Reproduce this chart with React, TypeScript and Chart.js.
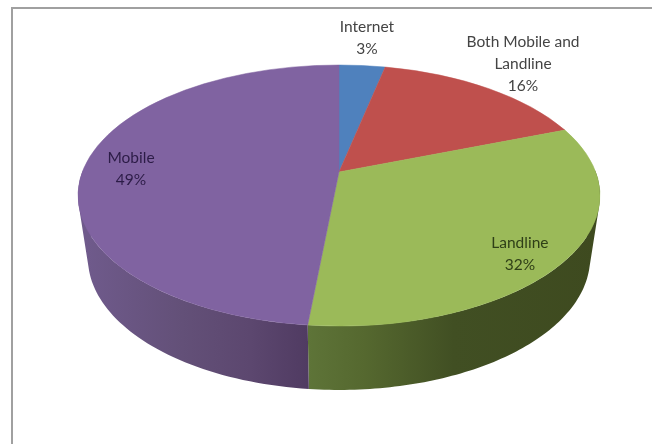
import React, { useEffect, useRef } from "react";
import { Chart, registerables } from "chart.js";

Chart.register(...registerables);

const categories = ["Internet", "Both Mobile and Landline", "Landline", "Mobile"];
const shares = [3.4, 15.9, 32.4, 48.5];
const topColors = ["#4f81bd", "#bf504d", "#9bba59", "#8063a1"];
const sideStops: [number, string][][] = [
  [[0, "#2f4d71"], [1, "#2f4d71"]],
  [[0, "#733030"], [1, "#733030"]],
  [[0.44, "#5e7438"], [0.55, "#55682f"], [0.72, "#414f23"], [1, "#3e4a1f"]],
  [[0, "#705b8d"], [0.2, "#635078"], [0.33, "#5c476f"], [0.44, "#503b62"]],
];
const labelLines = [["Internet"], ["Both Mobile and", "Landline"], ["Landline"], ["Mobile"]];
const labelColors = ["#444444", "#444444", "#2f3f17", "#2c1c47"];
const labelAnchors = [
  [0.107, -1.207],
  [0.705, -1.008],
  [0.693, 0.448],
  [-0.797, -0.203],
];

const ASPECT = 2; // horizontal radius / vertical radius of the ellipse
const APEX = -0.18; // perspective: how far up the pie's centre appears
const BASE = { dy: 62.5, rxScale: 0.962, ryScale: 1.011 };

function project(theta: number) {
  const u = Math.cos(theta);
  const v = Math.sin(theta);
  const w = 1 + APEX * v;
  return { X: (u * Math.sqrt(1 - APEX * APEX)) / w, Y: (v + APEX) / w };
}

const pie3d = {
  id: "pie3d",
  beforeDraw(chart: any) {
    const { ctx, width, height } = chart;
    ctx.save();
    ctx.fillStyle = "#ffffff";
    ctx.fillRect(0, 0, width, height);
    ctx.strokeStyle = "#a0a0a0";
    ctx.lineWidth = 2;
    ctx.beginPath();
    ctx.moveTo(12, height);
    ctx.lineTo(12, 8);
    ctx.lineTo(width, 8);
    ctx.stroke();
    ctx.restore();
  },
  beforeDatasetsDraw(chart: any) {
    const { ctx } = chart;
    const arcs = chart.getDatasetMeta(0).data;
    ctx.save();

    arcs.forEach((arc: any, i: number) => {
      const ry = arc.outerRadius;
      const rx = ry * ASPECT;
      const steps = 120;
      const topAt = (p: any) => [arc.x + rx * p.X, arc.y + ry * p.Y];
      const botAt = (p: any) => [arc.x + rx * BASE.rxScale * p.X, arc.y + BASE.dy + ry * BASE.ryScale * p.Y];
      const grad = ctx.createLinearGradient(arc.x - rx, 0, arc.x + rx, 0);
      sideStops[i].forEach(([t, c]) => grad.addColorStop(t, c));
      ctx.fillStyle = grad;
      ctx.beginPath();
      for (let s = 0; s < steps; s++) {
        const span = arc.endAngle - arc.startAngle;
        const p = project(arc.startAngle + (span * s) / steps);
        const q = project(arc.startAngle + (span * (s + 1)) / steps);
        if (p.Y < -0.2 && q.Y < -0.2) continue; // the back of the wall is hidden by the top face
        let quad = [topAt(p), topAt(q), botAt(q), botAt(p)];
        let area = 0;
        quad.forEach(([x, y], k) => {
          const [nx, ny] = quad[(k + 1) % 4];
          area += x * ny - nx * y;
        });
        if (area < 0) quad = quad.reverse();
        quad.forEach(([x, y], k) => (k ? ctx.lineTo(x, y) : ctx.moveTo(x, y)));
        ctx.closePath();
      }
      ctx.fill();
    });

    arcs.forEach((arc: any, i: number) => {
      const ry = arc.outerRadius;
      const rx = ry * ASPECT;
      const a = project(arc.startAngle);
      const b = project(arc.endAngle);
      ctx.fillStyle = topColors[i];
      ctx.strokeStyle = topColors[i];
      ctx.lineWidth = 0.5;
      ctx.beginPath();
      ctx.moveTo(arc.x, arc.y + ry * APEX);
      ctx.ellipse(arc.x, arc.y, rx, ry, 0, Math.atan2(a.Y, a.X), Math.atan2(b.Y, b.X), false);
      ctx.closePath();
      ctx.fill();
      ctx.stroke();
    });

    ctx.textAlign = "center";
    ctx.textBaseline = "middle";
    ctx.font = "15.5px Lato";
    arcs.forEach((arc: any, i: number) => {
      const ry = arc.outerRadius;
      const rx = ry * ASPECT;
      const lines = [...labelLines[i], `${Math.round(shares[i])}%`];
      const x = arc.x + rx * labelAnchors[i][0];
      const y = arc.y + ry * labelAnchors[i][1];
      ctx.fillStyle = labelColors[i];
      lines.forEach((line, k) => {
        ctx.fillText(line, x, y + (k - (lines.length - 1) / 2) * 22);
      });
    });

    ctx.restore();
    return false;
  },
};

export default function App() {
  const ref = useRef<HTMLCanvasElement>(null);
  useEffect(() => {
    document.body.style.margin = "0";
    const chart = new Chart(ref.current!, {
      type: "pie",
      data: {
        labels: categories,
        datasets: [{ data: shares, backgroundColor: topColors, borderWidth: 0 }],
      },
      options: {
        responsive: false,
        animation: false,
        layout: { padding: { top: 65, bottom: 118, left: 78, right: 52 } },
        plugins: { legend: { display: false }, tooltip: { enabled: false } },
      },
      plugins: [pie3d as any],
    });
    return () => chart.destroy();
  }, []);
  return <canvas ref={ref} width={652} height={444} style={{ display: "block" }} />;
}
